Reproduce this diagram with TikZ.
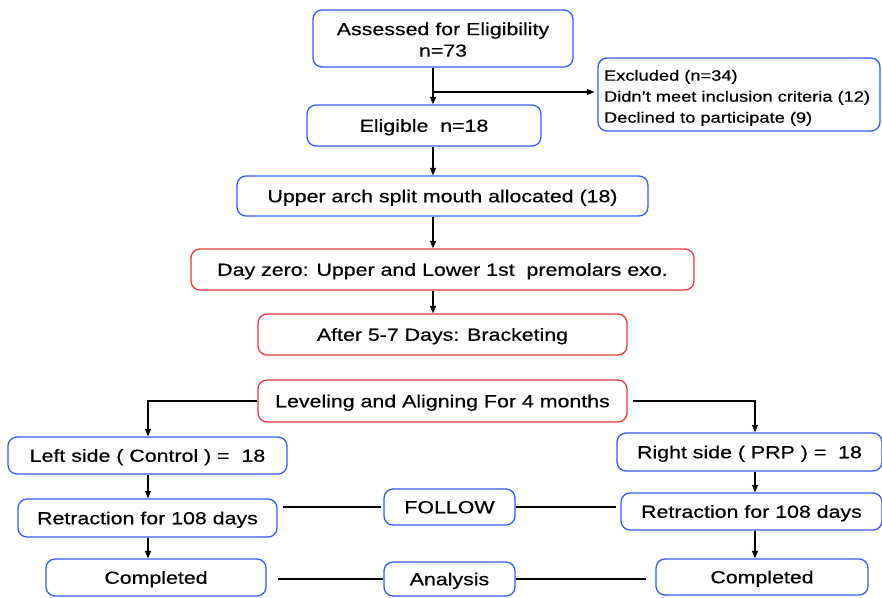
\documentclass[tikz,border=0pt]{standalone}
\usepackage{fontspec}
\setmainfont{Liberation Sans}[FakeStretch=1.22,FakeBold=0.5]
\usetikzlibrary{arrows.meta}
\definecolor{boxblue}{RGB}{50,90,250}
\definecolor{boxred}{RGB}{235,55,55}
\begin{document}
\begin{tikzpicture}[x=1pt,y=-1pt,
  base/.style={rounded corners=9pt,line width=1.3pt,inner sep=0pt,align=center,
    font=\fontsize{17.5}{21.5}\selectfont},
  one/.style={text height=12.5pt,text depth=0pt},
  bluebox/.style={base,draw=boxblue},
  redbox/.style={base,draw=boxred},
  conn/.style={line width=1.2pt,black},
  arr/.style={conn,-{Triangle[length=7.5pt,width=6pt]}}]
\useasboundingbox (0,0) rectangle (882,597);
\node[bluebox,minimum width=260pt,minimum height=57pt] (assess) at (443,38.5) {\rule{0pt}{15pt}Assessed for Eligibility\\n=73};
\node[bluebox,minimum width=282pt,minimum height=73pt,text width=270pt,align=left,
  font=\fontsize{15}{21}\selectfont] (excl) at (739,94.5)
  {\rule{0pt}{17.5pt}Excluded (n=34)\\Didn’t meet inclusion criteria (12)\\Declined to participate (9)};
\node[bluebox,one,minimum width=234pt,minimum height=41pt] (elig) at (424,125.5) {Eligible\ \ n=18};
\node[bluebox,one,minimum width=411pt,minimum height=40pt] (upper) at (442.5,196) {Upper arch split mouth allocated (18)};
\node[redbox,one,minimum width=503pt,minimum height=41pt] (day) at (442.5,269.5) {Day zero: Upper and Lower 1st\ \ premolars exo.};
\node[redbox,one,minimum width=369pt,minimum height=41pt] (after) at (442.5,334.5) {After 5-7 Days: Bracketing};
\node[redbox,one,minimum width=369pt,minimum height=42pt] (level) at (442.5,401) {Leveling and Aligning For 4 months};
\node[bluebox,one,minimum width=279pt,minimum height=37pt] (left) at (147.5,455.5) {Left side ( Control ) =\ \ 18};
\node[bluebox,one,minimum width=265pt,minimum height=38pt] (right) at (749.5,452) {Right side ( PRP ) =\ \ 18};
\node[bluebox,one,minimum width=131pt,minimum height=36pt] (follow) at (449.5,507) {FOLLOW};
\node[bluebox,one,minimum width=259pt,minimum height=38pt] (retl) at (147.5,518) {Retraction for 108 days};
\node[bluebox,one,minimum width=261pt,minimum height=37pt] (retr) at (751.5,511.5) {Retraction for 108 days};
\node[bluebox,one,minimum width=131pt,minimum height=34pt] (analysis) at (449.5,579) {Analysis};
\node[bluebox,one,minimum width=220pt,minimum height=37pt] (compl) at (156,577.5) {Completed};
\node[bluebox,one,minimum width=212pt,minimum height=36pt] (compr) at (762,577) {Completed};
\coordinate (mid) at (433,92);
\coordinate (lcol) at (148,401);
\coordinate (rcol) at (755,401);
\draw[arr] (assess.south -| mid) -- (elig.north -| mid);
\draw[arr] (mid) -- ([xshift=-3pt]excl.west |- mid);
\draw[arr] (elig.south -| mid) -- (upper.north -| mid);
\draw[arr] (upper.south -| mid) -- (day.north -| mid);
\draw[arr] (day.south -| mid) -- (after.north -| mid);
\draw[arr] (level.west) -- (lcol) -- (left.north -| lcol);
\draw[arr] ([xshift=5pt]level.east) -- (rcol) -- (right.north -| rcol);
\draw[arr] (left.south -| lcol) -- (retl.north -| lcol);
\draw[arr] (retl.south -| lcol) -- (compl.north -| lcol);
\draw[arr] (right.south -| rcol) -- (retr.north -| rcol);
\draw[arr] (retr.south -| rcol) -- (compr.north -| rcol);
\draw[conn] ([xshift=5pt]retl.east |- follow.west) -- ([xshift=-2pt]follow.west);
\draw[conn] (follow.east) -- ([xshift=-4pt]retr.west |- follow.east);
\draw[conn] ([xshift=11pt]compl.east |- analysis.west) -- (analysis.west);
\draw[conn] (analysis.east) -- ([xshift=-9pt]compr.west |- analysis.east);
\end{tikzpicture}
\end{document}
